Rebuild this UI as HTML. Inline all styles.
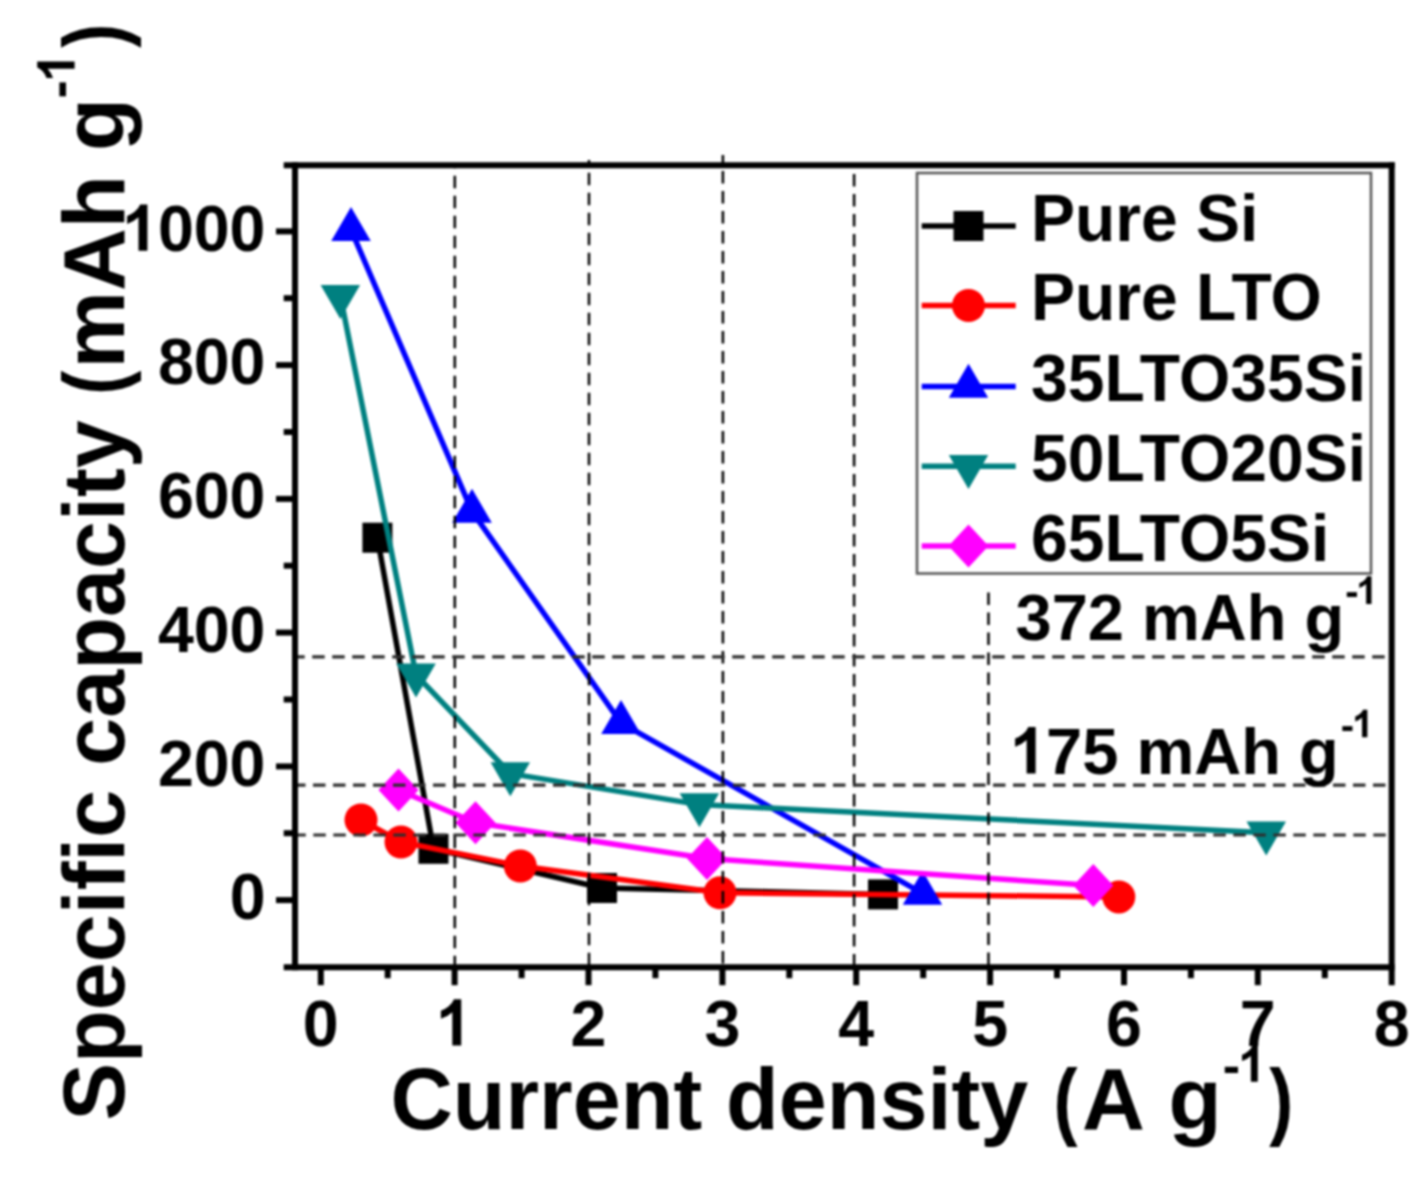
<!DOCTYPE html>
<html><head><meta charset="utf-8"><style>
html,body{margin:0;padding:0;background:#fff;width:1426px;height:1179px;overflow:hidden}
svg{display:block;filter:blur(1px)}
text{font-family:"Liberation Sans",sans-serif;font-weight:bold;fill:#000}
</style></head><body>
<svg width="1426" height="1179" viewBox="0 0 1426 1179">
<rect width="1426" height="1179" fill="#fff"/>
<g>
<polyline points="377.4,537.7 433.5,848.8 602.0,888.0 883.0,894.4" fill="none" stroke="#000" stroke-width="5.5" stroke-linejoin="round"/><rect x="362.4" y="522.7" width="30" height="30" fill="#000"/><rect x="418.5" y="833.8" width="30" height="30" fill="#000"/><rect x="587.0" y="873.0" width="30" height="30" fill="#000"/><rect x="868.0" y="879.4" width="30" height="30" fill="#000"/>
<polyline points="361.0,820.0 401.0,842.0 520.3,866.0 720.0,892.8 1118.8,896.9" fill="none" stroke="#f00" stroke-width="5.5" stroke-linejoin="round"/><circle cx="361.0" cy="820.0" r="16.5" fill="#f00"/><circle cx="401.0" cy="842.0" r="16.5" fill="#f00"/><circle cx="520.3" cy="866.0" r="16.5" fill="#f00"/><circle cx="720.0" cy="892.8" r="16.5" fill="#f00"/><circle cx="1118.8" cy="896.9" r="16.5" fill="#f00"/>
<polyline points="351.0,229.7 472.0,511.4 621.0,722.8 922.5,893.4" fill="none" stroke="#00f" stroke-width="5.5" stroke-linejoin="round"/><polygon points="351.0,207.0 370.8,241.0 331.2,241.0" fill="#00f"/><polygon points="472.0,488.7 491.8,522.7 452.2,522.7" fill="#00f"/><polygon points="621.0,700.1 640.8,734.1 601.2,734.1" fill="#00f"/><polygon points="922.5,870.7 942.2,904.7 902.8,904.7" fill="#00f"/>
<polyline points="340.4,296.3 416.0,674.8 510.3,773.6 699.4,804.6 1266.2,832.8" fill="none" stroke="#008080" stroke-width="5.5" stroke-linejoin="round"/><polygon points="340.4,319.0 360.1,285.0 320.6,285.0" fill="#008080"/><polygon points="416.0,697.5 435.8,663.5 396.2,663.5" fill="#008080"/><polygon points="510.3,796.3 530.0,762.3 490.6,762.3" fill="#008080"/><polygon points="699.4,827.3 719.1,793.3 679.6,793.3" fill="#008080"/><polygon points="1266.2,855.5 1286.0,821.5 1246.5,821.5" fill="#008080"/>
<polyline points="398.5,790.0 475.5,822.8 707.0,858.5 1093.3,885.6" fill="none" stroke="#f0f" stroke-width="5.5" stroke-linejoin="round"/><polygon points="398.5,768.5 418.5,790.0 398.5,811.5 378.5,790.0" fill="#f0f"/><polygon points="475.5,801.3 495.5,822.8 475.5,844.3 455.5,822.8" fill="#f0f"/><polygon points="707.0,837.0 727.0,858.5 707.0,880.0 687.0,858.5" fill="#f0f"/><polygon points="1093.3,864.1 1113.3,885.6 1093.3,907.1 1073.3,885.6" fill="#f0f"/>
<line x1="454.8" y1="165.3" x2="454.8" y2="967.2" stroke="#000" stroke-width="2.5" stroke-dasharray="12.5 7.5" stroke-dashoffset="9.6"/>
<line x1="589.0" y1="160" x2="589.0" y2="967.2" stroke="#000" stroke-width="2.5" stroke-dasharray="12.5 7.5" stroke-dashoffset="7.3"/>
<line x1="722.9" y1="155" x2="722.9" y2="967.2" stroke="#000" stroke-width="2.5" stroke-dasharray="12.5 7.5" stroke-dashoffset="4"/>
<line x1="854.1" y1="165.3" x2="854.1" y2="967.2" stroke="#000" stroke-width="2.5" stroke-dasharray="12.5 7.5" stroke-dashoffset="11.3"/>
<line x1="988.5" y1="592.5" x2="988.5" y2="967.2" stroke="#000" stroke-width="2.5" stroke-dasharray="12.5 7.5" stroke-dashoffset="0"/>
<line x1="295" y1="656.8" x2="1391.7" y2="656.8" stroke="#2e2e2e" stroke-width="3.2" stroke-dasharray="12.5 7.5" stroke-dashoffset="2.8"/>
<line x1="295" y1="785.1" x2="1391.7" y2="785.1" stroke="#2e2e2e" stroke-width="3.2" stroke-dasharray="12.5 7.5" stroke-dashoffset="2.0"/>
<line x1="295" y1="835.0" x2="1391.7" y2="835.0" stroke="#2e2e2e" stroke-width="3.2" stroke-dasharray="12.5 7.5" stroke-dashoffset="1.7"/>
<rect x="917" y="173" width="454" height="400.5" fill="#fff" stroke="#555" stroke-width="2.5"/>
<line x1="921.7" y1="226" x2="1015.7" y2="226" stroke="#000" stroke-width="5.5"/>
<rect x="953.5" y="211.0" width="30" height="30" fill="#000"/>
<text x="1031" y="240.6" font-size="66">Pure Si</text>
<line x1="921.7" y1="305.5" x2="1015.7" y2="305.5" stroke="#f00" stroke-width="5.5"/>
<circle cx="968.5" cy="305.5" r="16.5" fill="#f00"/>
<text x="1031" y="320.1" font-size="66">Pure LTO</text>
<line x1="921.7" y1="386.4" x2="1015.7" y2="386.4" stroke="#00f" stroke-width="5.5"/>
<polygon points="968.5,363.7 988.2,397.7 948.8,397.7" fill="#00f"/>
<text x="1031" y="401.0" font-size="66">35LTO35Si</text>
<line x1="921.7" y1="466.3" x2="1015.7" y2="466.3" stroke="#008080" stroke-width="5.5"/>
<polygon points="968.5,489.0 988.2,455.0 948.8,455.0" fill="#008080"/>
<text x="1031" y="480.9" font-size="66">50LTO20Si</text>
<line x1="921.7" y1="546" x2="1015.7" y2="546" stroke="#f0f" stroke-width="5.5"/>
<polygon points="968.5,524.5 988.5,546.0 968.5,567.5 948.5,546.0" fill="#f0f"/>
<text x="1031" y="560.6" font-size="66">65LTO5Si</text>
<g stroke="#000" stroke-width="6" fill="none">
<line x1="295" y1="162.3" x2="295" y2="970.2"/>
<line x1="1391.7" y1="162.3" x2="1391.7" y2="985.2"/>
<line x1="283.7" y1="165.3" x2="1394.7" y2="165.3"/>
<line x1="283.7" y1="967.2" x2="1394.7" y2="967.2"/>
<line x1="276" y1="900.1" x2="295" y2="900.1"/>
<line x1="276" y1="766.4" x2="295" y2="766.4"/>
<line x1="276" y1="632.6" x2="295" y2="632.6"/>
<line x1="276" y1="498.9" x2="295" y2="498.9"/>
<line x1="276" y1="365.1" x2="295" y2="365.1"/>
<line x1="276" y1="231.4" x2="295" y2="231.4"/>
<line x1="283.7" y1="833.2" x2="295" y2="833.2"/>
<line x1="283.7" y1="699.5" x2="295" y2="699.5"/>
<line x1="283.7" y1="565.7" x2="295" y2="565.7"/>
<line x1="283.7" y1="432.0" x2="295" y2="432.0"/>
<line x1="283.7" y1="298.2" x2="295" y2="298.2"/>
<line x1="320.8" y1="967.2" x2="320.8" y2="985.2"/>
<line x1="454.6" y1="967.2" x2="454.6" y2="985.2"/>
<line x1="588.5" y1="967.2" x2="588.5" y2="985.2"/>
<line x1="722.4" y1="967.2" x2="722.4" y2="985.2"/>
<line x1="856.2" y1="967.2" x2="856.2" y2="985.2"/>
<line x1="990.1" y1="967.2" x2="990.1" y2="985.2"/>
<line x1="1124.0" y1="967.2" x2="1124.0" y2="985.2"/>
<line x1="1257.8" y1="967.2" x2="1257.8" y2="985.2"/>
<line x1="387.7" y1="967.2" x2="387.7" y2="978.2"/>
<line x1="521.6" y1="967.2" x2="521.6" y2="978.2"/>
<line x1="655.4" y1="967.2" x2="655.4" y2="978.2"/>
<line x1="789.3" y1="967.2" x2="789.3" y2="978.2"/>
<line x1="923.2" y1="967.2" x2="923.2" y2="978.2"/>
<line x1="1057.0" y1="967.2" x2="1057.0" y2="978.2"/>
<line x1="1190.9" y1="967.2" x2="1190.9" y2="978.2"/>
<line x1="1324.8" y1="967.2" x2="1324.8" y2="978.2"/>
</g>
<text x="265.5" y="919.4" font-size="64.5" text-anchor="end">0</text>
<text x="265.5" y="785.6" font-size="64.5" text-anchor="end">200</text>
<text x="265.5" y="651.9" font-size="64.5" text-anchor="end">400</text>
<text x="265.5" y="518.1" font-size="64.5" text-anchor="end">600</text>
<text x="265.5" y="384.4" font-size="64.5" text-anchor="end">800</text>
<text x="265.5" y="250.7" font-size="64.5" text-anchor="end">000</text>
<path d="M0.394 0H0.256V-0.517Q0.181 -0.447 0.079 -0.413V-0.538Q0.133 -0.555 0.196 -0.604Q0.259 -0.653 0.282 -0.716H0.394Z" transform="translate(122.0,250.7) scale(64.5)" fill="#000"/>
<text x="320.8" y="1045.5" font-size="64.5" text-anchor="middle">0</text>
<path d="M0.394 0H0.256V-0.517Q0.181 -0.447 0.079 -0.413V-0.538Q0.133 -0.555 0.196 -0.604Q0.259 -0.653 0.282 -0.716H0.394Z" transform="translate(435.8,1045.5) scale(64.5)" fill="#000"/>
<text x="588.5" y="1045.5" font-size="64.5" text-anchor="middle">2</text>
<text x="722.4" y="1045.5" font-size="64.5" text-anchor="middle">3</text>
<text x="856.2" y="1045.5" font-size="64.5" text-anchor="middle">4</text>
<text x="990.1" y="1045.5" font-size="64.5" text-anchor="middle">5</text>
<text x="1124.0" y="1045.5" font-size="64.5" text-anchor="middle">6</text>
<text x="1257.8" y="1045.5" font-size="64.5" text-anchor="middle">7</text>
<text x="1391.7" y="1045.5" font-size="64.5" text-anchor="middle">8</text>
<text x="1015.5" y="639.5" font-size="65">372 mAh g</text>
<text x="1345.2" y="605.1" font-size="40">-</text>
<path d="M0.394 0H0.256V-0.517Q0.181 -0.447 0.079 -0.413V-0.538Q0.133 -0.555 0.196 -0.604Q0.259 -0.653 0.282 -0.716H0.394Z" transform="translate(1356.3,603.9) scale(38.5)" fill="#000"/>
<path d="M0.394 0H0.256V-0.517Q0.181 -0.447 0.079 -0.413V-0.538Q0.133 -0.555 0.196 -0.604Q0.259 -0.653 0.282 -0.716H0.394Z" transform="translate(1010,773.5) scale(65)" fill="#000"/>
<text x="1046.1" y="773.5" font-size="65">75 mAh g</text>
<text x="1340.7" y="738.5" font-size="40">-</text>
<path d="M0.394 0H0.256V-0.517Q0.181 -0.447 0.079 -0.413V-0.538Q0.133 -0.555 0.196 -0.604Q0.259 -0.653 0.282 -0.716H0.394Z" transform="translate(1352.2,737.3) scale(38.5)" fill="#000"/>
<text x="390.5" y="1128.5" font-size="86.3">Current density</text>
<text transform="translate(1053.6,1128.5) scale(0.83,0.97)" font-size="87">(</text>
<text x="1081.9" y="1128.5" font-size="87">A</text>
<text x="1168.4" y="1128.5" font-size="87">g</text>
<text transform="translate(1269.3,1128.5) scale(0.83,0.97)" font-size="87">)</text>
<text x="1222.8" y="1083" font-size="52">-</text>
<path d="M0.394 0H0.256V-0.517Q0.181 -0.447 0.079 -0.413V-0.538Q0.133 -0.555 0.196 -0.604Q0.259 -0.653 0.282 -0.716H0.394Z" transform="translate(1238.1,1081.7) scale(49.9)" fill="#000"/>
<text transform="translate(123.5,1120.6) rotate(-90)" font-size="86.3">Specific capacity</text>
<text transform="translate(122.5,394.8) rotate(-90) scale(0.83,0.97)" font-size="87">(</text>
<text transform="translate(123.5,368.43) rotate(-90)" font-size="87">mAh g</text>
<text transform="translate(122.5,47.8) rotate(-90) scale(0.83,0.97)" font-size="87">)</text>
<text transform="translate(76.8,98.4) rotate(-90)" font-size="55">-</text>
<path d="M0.394 0H0.256V-0.517Q0.181 -0.447 0.079 -0.413V-0.538Q0.133 -0.555 0.196 -0.604Q0.259 -0.653 0.282 -0.716H0.394Z" transform="translate(74.6,82.1) rotate(-90) scale(52.2)" fill="#000"/>
</g></svg></body></html>
